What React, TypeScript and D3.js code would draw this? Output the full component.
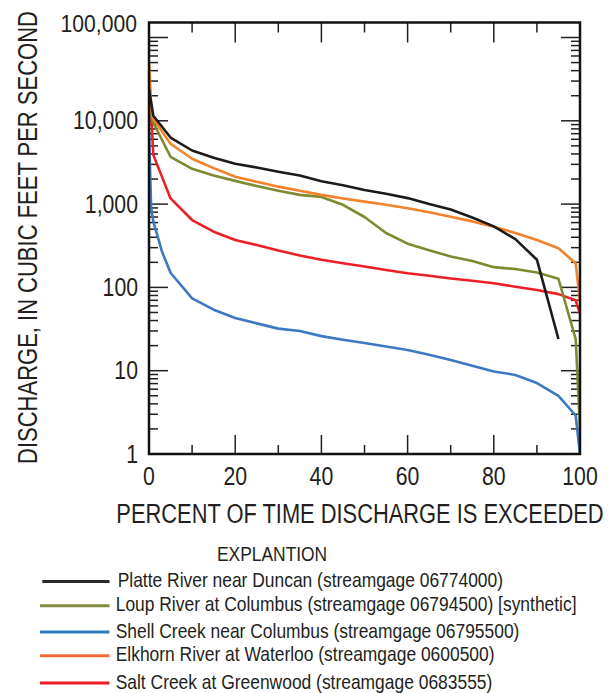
import React from "react";
import * as d3 from "d3";

// ---- data (percent of time exceeded, discharge in cfs) ----
const platte: [number, number][] = [
  [0, 24000], [1, 11500], [5, 6300], [10, 4400], [15, 3600], [20, 3050], [25, 2750],
  [30, 2450], [35, 2200], [40, 1880], [45, 1680], [50, 1480], [55, 1330], [60, 1180],
  [65, 1000], [70, 860], [75, 690], [80, 540], [85, 380], [90, 215], [95, 24],
];
const loup: [number, number][] = [
  [0, 13000], [1, 9500], [5, 3700], [10, 2650], [15, 2200], [20, 1900], [25, 1650],
  [30, 1450], [35, 1290], [40, 1220], [45, 980], [50, 700], [55, 450], [60, 335],
  [65, 280], [70, 235], [75, 208], [80, 175], [85, 166], [90, 151], [95, 127], [99, 24], [100, 2],
];
const shell: [number, number][] = [
  [0, 7500], [0.5, 900], [1, 620], [3, 270], [5, 150], [10, 74], [15, 54], [20, 43],
  [25, 37], [30, 32], [35, 30], [40, 26], [45, 23.5], [50, 21.5], [55, 19.5], [60, 17.7],
  [65, 15.5], [70, 13.4], [75, 11.5], [80, 9.8], [85, 8.9], [90, 7.1], [95, 5], [99, 2.9], [100, 1],
];
const elkhorn: [number, number][] = [
  [0, 50000], [0.6, 12300], [1, 10500], [5, 5300], [10, 3500], [15, 2700], [20, 2130],
  [25, 1850], [30, 1620], [35, 1450], [40, 1290], [45, 1170], [50, 1070], [55, 980],
  [60, 890], [65, 800], [70, 706], [75, 620], [80, 534], [85, 450], [90, 370], [95, 295],
  [99, 195], [100, 67],
];
const salt: [number, number][] = [
  [0, 38000], [1, 3900], [5, 1170], [10, 644], [15, 466], [20, 371], [25, 323], [30, 277],
  [35, 242], [40, 215], [45, 195], [50, 178], [55, 162], [60, 148], [65, 138], [70, 128],
  [75, 120], [80, 112], [85, 102], [90, 93], [95, 83], [99, 70], [100, 48],
];

const seriesNames = [
  "Platte River near Duncan (streamgage 06774000)",
  "Loup River at Columbus (streamgage 06794500) [synthetic]",
  "Shell Creek near Columbus (streamgage 06795500)",
  "Elkhorn River at Waterloo (streamgage 0600500)",
  "Salt Creek at Greenwood (streamgage 0683555)",
];
const seriesData = [platte, loup, shell, elkhorn, salt];
const seriesColors = ["#1c1a1a", "#7e8a32", "#3d78c2", "#f4822b", "#ed1f26"];
const legendColors = ["#2b2828", "#838b3c", "#2f7cc0", "#f26b36", "#ed1c24"];
const drawOrder = [2, 4, 1, 3, 0];

const xMajorTicks = [0, 20, 40, 60, 80, 100];
const xMinorTicks = [10, 30, 50, 70, 90];
const yMajorTicks = [1, 10, 100, 1000, 10000, 100000];
const yTickLabels = ["1", "10", "100", "1,000", "10,000", "100,000"];

const FONT = "'Liberation Sans', Arial, Helvetica, sans-serif";
const TXT = "#231f20";

function CText(props: {
  x: number; y: number; size: number; sx: number; anchor?: string; rotate?: number; children: React.ReactNode;
}) {
  const { x, y, size, sx, anchor = "start", rotate = 0, children } = props;
  return (
    <text
      transform={`translate(${x},${y}) rotate(${rotate}) scale(${sx},1)`}
      fontSize={size}
      fontFamily={FONT}
      fill={TXT}
      textAnchor={anchor}
    >
      {children}
    </text>
  );
}

export default function App() {
  const left = 149, right = 580, top = 22.5, bottom = 454;
  const x = d3.scaleLinear().domain([0, 100]).range([left, right]);
  const y = d3.scaleLog().domain([1, 100000]).range([bottom, 37.5]);
  const line = d3
    .line<[number, number]>()
    .x((d) => x(d[0]))
    .y((d) => y(d[1]));

  const minorY: number[] = [];
  for (let e = 0; e < 5; e++) {
    for (let k = 2; k <= 9; k++) minorY.push(k * Math.pow(10, e));
  }

  return (
    <svg
      width={608}
      height={693}
      style={{ position: "absolute", left: 0, top: 0, display: "block", background: "#fff" }}
    >
      <defs>
        <clipPath id="plotclip">
          <rect x={left} y={top} width={right - left} height={bottom - top} />
        </clipPath>
      </defs>

      {/* ticks */}
      <g stroke="#231f20" strokeWidth={1.5}>
        {yMajorTicks.map((v) => (
          <g key={"ym" + v}>
            <line x1={left} x2={left + 19} y1={y(v)} y2={y(v)} />
            <line x1={right} x2={right - 19} y1={y(v)} y2={y(v)} />
          </g>
        ))}
        {minorY.map((v) => (
          <g key={"yn" + v}>
            <line x1={left} x2={left + 9} y1={y(v)} y2={y(v)} />
            <line x1={right} x2={right - 9} y1={y(v)} y2={y(v)} />
          </g>
        ))}
        {xMajorTicks.slice(1, -1).map((p) => (
          <g key={"xm" + p}>
            <line x1={x(p)} x2={x(p)} y1={top} y2={top + 20} />
            <line x1={x(p)} x2={x(p)} y1={bottom} y2={bottom - 19} />
          </g>
        ))}
        {xMinorTicks.map((p) => (
          <g key={"xn" + p}>
            <line x1={x(p)} x2={x(p)} y1={top} y2={top + 10} />
            <line x1={x(p)} x2={x(p)} y1={bottom} y2={bottom - 9} />
          </g>
        ))}
      </g>

      {/* series */}
      <g clipPath="url(#plotclip)" fill="none" strokeWidth={2.6} strokeLinejoin="round">
        {drawOrder.map((i) => (
          <path key={i} d={line(seriesData[i]) || ""} stroke={seriesColors[i]} />
        ))}
      </g>

      {/* frame */}
      <rect x={left} y={top} width={right - left} height={bottom - top} fill="none" stroke="#111" strokeWidth={2.5} />

      {/* y tick labels */}
      {yMajorTicks.map((v, i) =>
        v === 100000 ? (
          <CText key={"yl" + v} x={137} y={31.5} size={23} sx={0.92} anchor="end">
            {yTickLabels[i]}
          </CText>
        ) : (
          <CText key={"yl" + v} x={138} y={y(v) + 8.5} size={25} sx={0.85} anchor="end">
            {yTickLabels[i]}
          </CText>
        )
      )}

      {/* x tick labels */}
      {xMajorTicks.map((p) => (
        <CText key={"xl" + p} x={x(p)} y={485} size={25} sx={0.85} anchor="middle">
          {String(p)}
        </CText>
      ))}

      {/* axis titles */}
      <CText x={360} y={523} size={27} sx={0.81} anchor="middle">
        PERCENT OF TIME DISCHARGE IS EXCEEDED
      </CText>
      <CText x={37} y={237.5} size={27} sx={0.815} anchor="middle" rotate={-90}>
        DISCHARGE, IN CUBIC FEET PER SECOND
      </CText>

      {/* legend */}
      <CText x={217} y={561} size={20} sx={0.87}>
        EXPLANTION
      </CText>
      {seriesNames.map((name, i) => {
        const ly = [581.5, 605.7, 632, 655.7, 683][i];
        const x0 = i === 0 ? 42.3 : 40;
        const tx = i === 0 ? 117.7 : 115.7;
        return (
          <g key={"lg" + i}>
            <line x1={x0} x2={109.5} y1={ly} y2={ly} stroke={legendColors[i]} strokeWidth={3} />
            <CText x={tx} y={ly + 5.5} size={20.5} sx={0.85}>
              {name}
            </CText>
          </g>
        );
      })}
    </svg>
  );
}
